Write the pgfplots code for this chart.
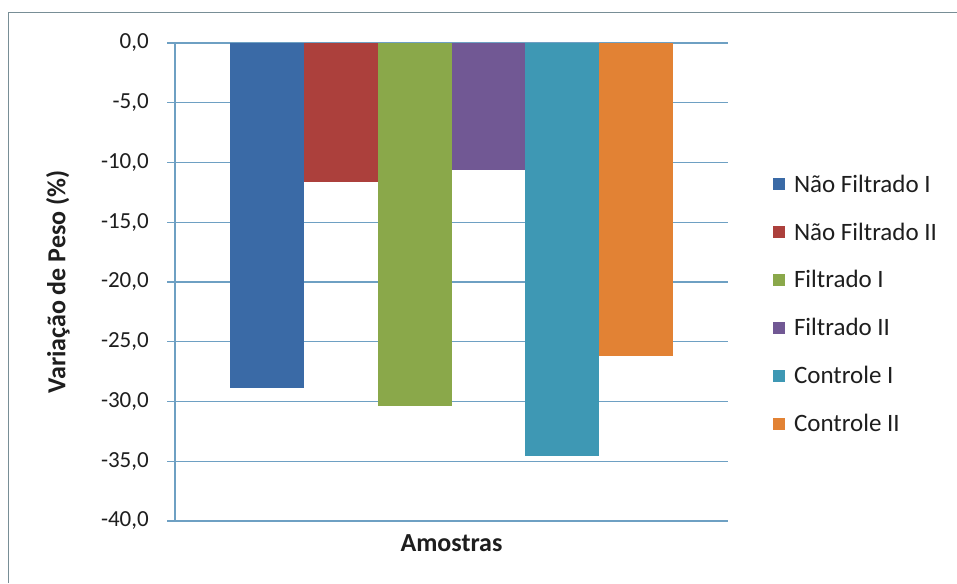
\documentclass[border=0pt]{standalone}
\usepackage{pgfplots}
\pgfplotsset{compat=1.18}
\usepackage{fontspec}
\setmainfont{Carlito}

\definecolor{cNFa}{RGB}{58,106,166}
\definecolor{cNFb}{RGB}{172,64,60}
\definecolor{cFa}{RGB}{138,168,74}
\definecolor{cFb}{RGB}{113,88,148}
\definecolor{cCa}{RGB}{62,152,180}
\definecolor{cCb}{RGB}{226,130,52}
\definecolor{gridcol}{RGB}{110,160,195}
\definecolor{framecol}{RGB}{120,142,150}
\definecolor{txt}{RGB}{30,30,30}

\begin{document}
\begin{tikzpicture}[x=1pt,y=1pt]
\useasboundingbox (0,0) rectangle (957,583);
\fill[white] (0,0) rectangle (957,583);
% chart frame
\draw[framecol, line width=1.5pt] (8.5,0) -- (8.5,570.5) -- (957,570.5);
\begin{axis}[
  at={(175pt,62pt)}, anchor=south west,
  scale only axis, width=553pt, height=478pt,
  ybar=0pt, bar width=73.7pt,
  xmin=-1, xmax=1, ymin=-40, ymax=0,
  xtick=\empty,
  ytick={-40,-35,...,0},
  axis x line*=bottom,
  axis y line*=left,
  axis line style={gridcol, line width=1.2pt, -},
  ymajorgrids,
  grid style={gridcol, line width=1.2pt},
  tick align=outside,
  major tick length=8pt,
  tick style={gridcol, line width=1.2pt},
  /pgf/number format/assume math mode=true,
  /pgf/number format/.cd, fixed, fixed zerofill, precision=1, use comma,
  /pgfplots/.cd,
  yticklabel style={font=\fontsize{23}{27}\selectfont, text=txt, inner sep=0pt, anchor=east, xshift=-18pt},
  ylabel={\textbf{Variação de Peso (\%)}},
  xlabel={\textbf{Amostras}},
  every axis y label/.style={at={(axis description cs:-0.2116,0.5)}, rotate=90, anchor=center, font=\fontsize{26}{30}\selectfont, text=txt},
  every axis x label/.style={at={(axis description cs:0.5,-0.046)}, anchor=center, font=\fontsize{26}{30}\selectfont, text=txt},
  legend image code/.code={\fill[#1, draw=none] (0pt,-6pt) rectangle (12pt,6pt);},
  legend style={at={(1,0.454)}, anchor=west, xshift=45pt, draw=none, fill=none,
    font=\fontsize{25}{29}\selectfont, text=txt, row sep=25pt,
    inner sep=0pt, outer sep=0pt,
    /tikz/every odd column/.append style={column sep=7pt}},
  legend cell align=left,
]
\addplot[fill=cNFa, draw=none] coordinates {(0,-28.9)};
\addplot[fill=cNFb, draw=none] coordinates {(0,-11.6)};
\addplot[fill=cFa, draw=none] coordinates {(0,-30.4)};
\addplot[fill=cFb, draw=none] coordinates {(0,-10.6)};
\addplot[fill=cCa, draw=none] coordinates {(0,-34.6)};
\addplot[fill=cCb, draw=none] coordinates {(0,-26.2)};
\legend{Não Filtrado I, Não Filtrado II, Filtrado I, Filtrado II, Controle I, Controle II}
\end{axis}
\end{tikzpicture}
\end{document}
